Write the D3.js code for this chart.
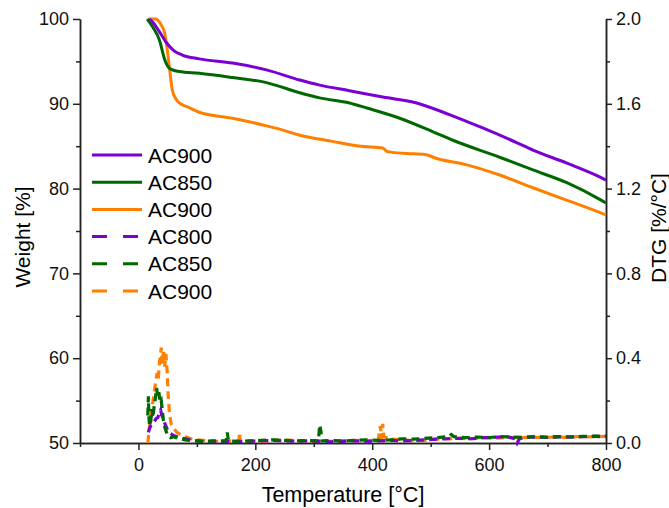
<!DOCTYPE html>
<html>
<head>
<meta charset="utf-8">
<script src="https://cdn.jsdelivr.net/npm/d3@7"></script>
<style>
  body { margin: 0; background: #fff; }
  svg { font-family: "Liberation Sans", Arial, sans-serif; }
</style>
</head>
<body>
<script>
// TG curves (weight %)
const tPurpleTG = [19, 25, 35, 48, 60, 75, 104, 161, 219, 276, 310, 361, 418, 476, 533, 589, 648, 675, 733, 790, 800];
const wPurpleTG = [100, 99.6, 98.6, 97.2, 96.3, 95.75, 95.3, 94.8, 94.0, 92.8, 92.2, 91.55, 90.8, 90.1, 88.7, 87.15, 85.4, 84.55, 83.0, 81.35, 81.0];

const tGreenTG = [15, 25, 36, 45, 53, 70, 104, 161, 219, 276, 310, 361, 391, 447, 504, 538, 618, 675, 733, 790, 800];
const wGreenTG = [100, 99.0, 97.5, 95.2, 94.2, 93.8, 93.6, 93.1, 92.5, 91.3, 90.7, 90.1, 89.5, 88.3, 86.7, 85.7, 83.7, 82.2, 80.7, 78.7, 78.3];

const tOrangeTG = [17, 30, 38, 45, 50, 53, 58, 64, 70, 85, 104, 161, 219, 247, 276, 330, 380, 418, 425, 432, 470, 493, 504, 562, 618, 675, 730, 778, 800];
const wOrangeTG = [100, 100, 99.4, 98.3, 96.0, 94.3, 91.6, 90.6, 90.1, 89.6, 89.0, 88.3, 87.4, 86.9, 86.3, 85.6, 85.0, 84.8, 84.4, 84.3, 84.1, 84.0, 83.7, 82.8, 81.6, 80.1, 78.7, 77.5, 76.9];

// DTG curves (%/°C)
const tPurpleDTG = [17, 19, 21, 24, 27, 30, 33, 36, 38, 40, 42, 44, 47, 50, 55, 60, 70, 80, 95, 110, 130, 150, 170, 190, 210, 230, 250, 270, 290, 310, 330, 350, 370, 390, 410, 430, 450, 470, 490, 510, 530, 550, 570, 590, 610, 630, 645, 648, 652, 660, 680, 700, 720, 740, 760, 780, 800];
const vPurpleDTG = [0.05, 0.07, 0.08, 0.085, 0.10, 0.115, 0.12, 0.14, 0.155, 0.13, 0.12, 0.10, 0.08, 0.06, 0.045, 0.035, 0.025, 0.02, 0.012, 0.008, 0.006, 0.008, 0.006, 0.008, 0.01, 0.012, 0.01, 0.008, 0.01, 0.008, 0.006, 0.008, 0.01, 0.008, 0.01, 0.012, 0.01, 0.012, 0.015, 0.018, 0.02, 0.022, 0.02, 0.025, 0.027, 0.03, 0.02, 0.0, 0.02, 0.027, 0.028, 0.026, 0.029, 0.028, 0.03, 0.031, 0.03];

const tGreenDTG = [16, 17, 18, 19, 21, 23, 25, 27, 29, 31, 33, 35, 37, 39, 41, 43, 45, 48, 51, 55, 60, 70, 80, 95, 110, 130, 150, 152, 154, 170, 190, 210, 230, 250, 270, 290, 308, 310, 312, 314, 330, 350, 370, 390, 410, 430, 450, 470, 490, 510, 530, 535, 540, 560, 580, 600, 620, 640, 660, 680, 700, 720, 740, 760, 780, 800];
const vGreenDTG = [0.13, 0.22, 0.12, 0.08, 0.10, 0.16, 0.12, 0.18, 0.21, 0.26, 0.22, 0.24, 0.19, 0.20, 0.15, 0.10, 0.075, 0.05, 0.03, 0.025, 0.03, 0.02, 0.015, 0.01, 0.008, 0.01, 0.01, 0.05, 0.01, 0.008, 0.01, 0.012, 0.015, 0.012, 0.01, 0.012, 0.01, 0.085, 0.06, 0.01, 0.012, 0.01, 0.012, 0.015, 0.012, 0.015, 0.02, 0.018, 0.022, 0.025, 0.03, 0.04, 0.03, 0.025, 0.028, 0.026, 0.03, 0.028, 0.027, 0.03, 0.028, 0.03, 0.029, 0.031, 0.032, 0.034];

const tOrangeDTG = [16, 18, 20, 23, 26, 29, 32, 34, 36, 38, 39, 41, 43, 45, 47, 49, 51, 53, 56, 60, 66, 72, 80, 90, 100, 120, 140, 160, 172, 173, 174, 190, 210, 230, 250, 270, 290, 310, 330, 350, 370, 390, 410, 414, 416, 418, 420, 430, 450, 470, 490, 510, 530, 550, 570, 590, 610, 630, 650, 670, 690, 710, 730, 750, 770, 790, 800];
const vOrangeDTG = [0.0, 0.05, 0.10, 0.16, 0.22, 0.28, 0.33, 0.30, 0.38, 0.42, 0.45, 0.37, 0.44, 0.36, 0.42, 0.34, 0.22, 0.14, 0.09, 0.07, 0.05, 0.04, 0.03, 0.02, 0.015, 0.01, 0.008, 0.01, 0.012, 0.05, 0.012, 0.01, 0.008, 0.012, 0.015, 0.01, 0.008, 0.01, 0.008, 0.01, 0.012, 0.01, 0.012, 0.08, 0.02, 0.09, 0.03, 0.02, 0.015, 0.01, 0.012, 0.018, 0.02, 0.022, 0.02, 0.024, 0.022, 0.026, 0.025, 0.027, 0.026, 0.028, 0.027, 0.03, 0.029, 0.031, 0.03];

const legendLabels = ["AC900", "AC850", "AC900", "AC800", "AC850", "AC900"];
const xTicks = [0, 200, 400, 600, 800];
const xMinor = [-100, 100, 300, 500, 700];
const yTicks = [50, 60, 70, 80, 90, 100];
const yMinor = [55, 65, 75, 85, 95];
const y2Ticks = [0, 0.4, 0.8, 1.2, 1.6, 2.0];
const y2Minor = [0.2, 0.6, 1.0, 1.4, 1.8];

const purple = "#7a00d4";
const green = "#006800";
const orange = "#ff8000";

const w = 669, h = 508;
const padLeft = 80, padRight = 606, padTop = 19, padBottom = 443;

const svg = d3.select("body").append("svg")
    .attr("width", w)
    .attr("height", h);

const x = d3.scaleLinear().domain([-100, 800]).range([padLeft, padRight]);
const y = d3.scaleLinear().domain([50, 100]).range([padBottom, padTop]);
const y2 = d3.scaleLinear().domain([0, 2]).range([padBottom, padTop]);

// axes
function styleAxis(g) {
    g.selectAll("path, line").attr("stroke", "#222").attr("stroke-width", 1.5);
    g.selectAll("text").attr("fill", "#111").style("font-size", "18px").style("font-family", "Liberation Sans, Arial, sans-serif");
}

svg.append("g")
    .attr("transform", "translate(0," + padBottom + ")")
    .call(d3.axisBottom(x).tickValues(xMinor).tickSize(4).tickSizeOuter(0).tickFormat(""))
    .call(styleAxis);
svg.append("g")
    .attr("transform", "translate(0," + padBottom + ")")
    .call(d3.axisBottom(x).tickValues(xTicks).tickSize(7).tickPadding(8).tickSizeOuter(0).tickFormat(d3.format("d")))
    .call(styleAxis);

svg.append("g")
    .attr("transform", "translate(" + padLeft + ",0)")
    .call(d3.axisLeft(y).tickValues(yMinor).tickSize(4).tickSizeOuter(0).tickFormat(""))
    .call(styleAxis);
svg.append("g")
    .attr("transform", "translate(" + padLeft + ",0)")
    .call(d3.axisLeft(y).tickValues(yTicks).tickSize(7).tickPadding(4).tickSizeOuter(0).tickFormat(d3.format("d")))
    .call(styleAxis);

svg.append("g")
    .attr("transform", "translate(" + padRight + ",0)")
    .call(d3.axisRight(y2).tickValues(y2Minor).tickSize(4).tickSizeOuter(0).tickFormat(""))
    .call(styleAxis);
svg.append("g")
    .attr("transform", "translate(" + padRight + ",0)")
    .call(d3.axisRight(y2).tickValues(y2Ticks).tickSize(6).tickPadding(4).tickSizeOuter(0).tickFormat(d3.format(".1f")))
    .call(styleAxis);

// axis titles
svg.append("text")
    .attr("text-anchor", "middle")
    .attr("x", (padLeft + padRight) / 2)
    .attr("y", 502)
    .style("font-size", "21.5px")
    .text("Temperature [°C]");

svg.append("text")
    .attr("text-anchor", "middle")
    .attr("transform", "translate(30," + 237 + ")rotate(-90)")
    .style("font-size", "21px")
    .text("Weight [%]");

svg.append("text")
    .attr("text-anchor", "middle")
    .attr("transform", "translate(666," + 228 + ")rotate(-90)")
    .style("font-size", "21px")
    .text("DTG [%/°C]");

// lines
const tgLine = d3.line()
    .x(d => x(d[0]))
    .y(d => y(d[1]))
    .curve(d3.curveMonotoneX);

const dtgLine = d3.line()
    .x(d => x(d[0]))
    .y(d => y2(d[1]));

const dtgSeries = [
    { t: tOrangeDTG, v: vOrangeDTG, c: orange },
    { t: tPurpleDTG, v: vPurpleDTG, c: purple },
    { t: tGreenDTG, v: vGreenDTG, c: green }
];
dtgSeries.forEach(function (s) {
    svg.append("path")
        .datum(d3.zip(s.t, s.v))
        .attr("fill", "none")
        .attr("stroke", s.c)
        .attr("stroke-width", 3.2)
        .attr("stroke-dasharray", "8,5")
        .attr("d", dtgLine);
});

const tgSeries = [
    { t: tOrangeTG, v: wOrangeTG, c: orange },
    { t: tGreenTG, v: wGreenTG, c: green },
    { t: tPurpleTG, v: wPurpleTG, c: purple }
];
tgSeries.forEach(function (s) {
    svg.append("path")
        .datum(d3.zip(s.t, s.v))
        .attr("fill", "none")
        .attr("stroke", s.c)
        .attr("stroke-width", 3)
        .attr("d", tgLine);
});

// legend
const legendColors = [purple, green, orange, purple, green, orange];
const legend = svg.append("g");
legendLabels.forEach(function (lab, i) {
    const ly = 155 + i * 27.2;
    legend.append("line")
        .attr("x1", 92).attr("x2", 142)
        .attr("y1", ly).attr("y2", ly)
        .attr("stroke", legendColors[i])
        .attr("stroke-width", 3)
        .attr("stroke-dasharray", i < 3 ? null : "15,16");
    legend.append("text")
        .attr("x", 148)
        .attr("y", ly + 7.5)
        .style("font-size", "21px")
        .text(lab);
});
</script>
</body>
</html>
